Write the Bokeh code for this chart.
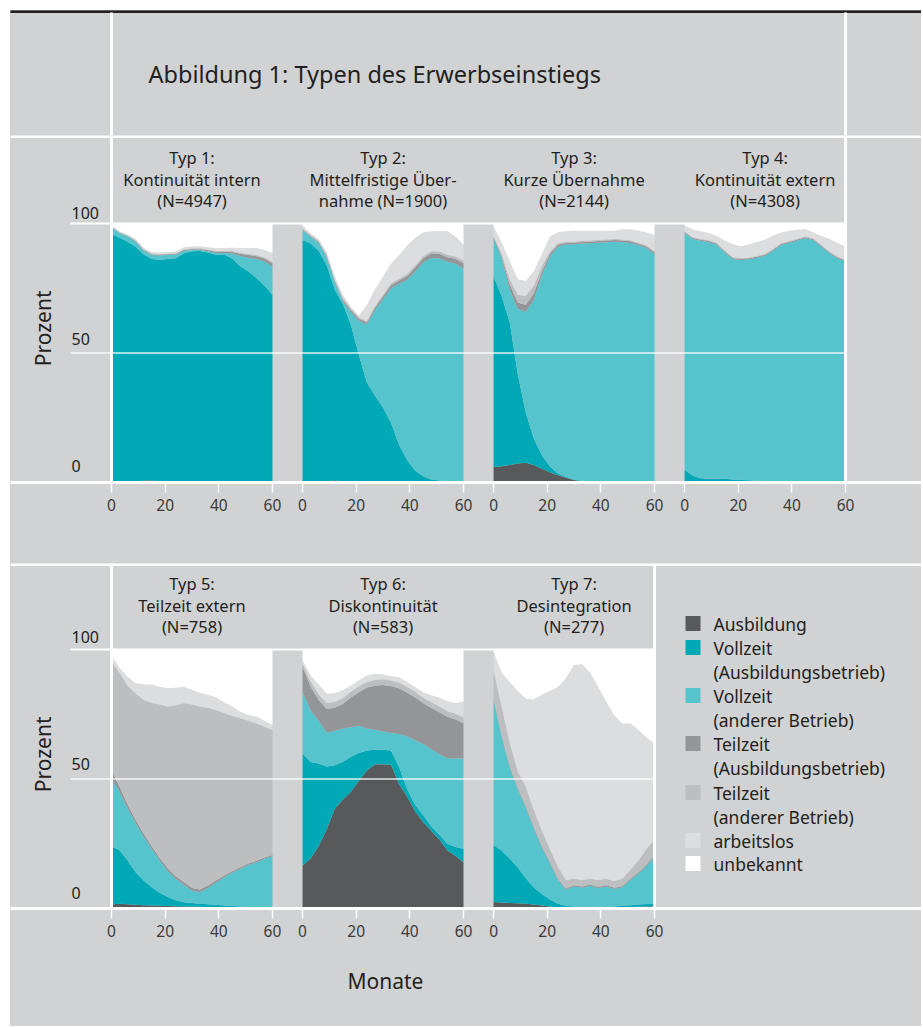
import numpy as np
from bokeh.plotting import figure
from bokeh.models import Range1d, LinearAxis, FixedTicker, Spacer
from bokeh.layouts import column, row
from bokeh.embed import file_html
from bokeh.resources import INLINE
from bokeh.core.properties import value

# ---------------- data (cumulative upper edge of each band, percent) ----------------
months = list(range(0, 61, 3))

typ1_ausb = [0.3,0.3,0.3,0.3,0.8,0.8,0.6,0.6,0.5,0.3,0.3,0.3,0.3,0.3,0.3,0.3,0.3,0.3,0.3,0.3,0.3]
typ1_vza = [96.0,94.5,93.0,91.0,88.0,86.3,86.0,86.3,86.6,88.5,89.3,89.4,88.8,87.9,88.0,86.5,83.5,81.5,79.0,76.0,72.5]
typ1_vzo = [98.5,96.2,95.0,93.0,89.5,87.8,87.6,87.8,88.0,89.5,89.8,89.8,89.3,88.6,88.6,88.4,87.5,86.8,86.3,85.3,83.4]
typ1_tza = [98.7,96.4,95.2,93.2,89.8,88.1,87.9,88.1,88.3,89.8,90.1,90.1,89.7,89.1,89.1,89.0,88.3,87.8,87.4,86.5,84.7]
typ1_tzo = [98.8,96.6,95.4,93.4,90.0,88.3,88.1,88.3,88.5,90.1,90.4,90.4,90.0,89.4,89.4,89.4,88.7,88.2,87.8,86.9,85.1]
typ1_al = [99.0,97.0,95.8,94.0,90.5,89.0,88.8,89.0,89.2,90.8,91.1,91.2,90.8,90.4,90.5,90.6,90.5,90.5,90.5,89.8,88.5]

typ2_ausb = [0.3,0.3,0.3,0.4,0.9,0.4,0.3,0.3,0.2,0.2,0.2,0.2,0.2,0.2,0.2,0.2,0.2,0.2,0.2,0.2,0.2]
typ2_vza = [93.6,92.3,89.5,84.0,74.5,69.0,61.0,49.2,38.5,33.5,29.0,23.0,14.5,8.6,4.5,2.4,1.2,0.8,0.6,0.5,0.5]
typ2_vzo = [97.5,94.9,92.5,87.0,77.5,70.0,65.8,62.4,61.0,66.5,70.8,75.0,76.7,78.3,81.5,85.0,86.7,86.5,85.2,84.5,82.6]
typ2_tza = [97.8,95.2,92.9,87.5,78.0,70.7,66.6,63.2,61.8,67.5,71.8,76.2,78.0,79.7,83.0,86.6,88.4,88.3,87.0,86.4,84.6]
typ2_tzo = [98.1,95.6,93.3,88.0,78.4,71.3,67.2,63.8,62.4,68.1,72.5,76.9,78.7,80.5,83.8,87.4,89.3,89.2,87.9,87.3,85.6]
typ2_al = [99.2,96.2,94.0,88.8,79.5,72.5,67.8,64.5,68.5,74.5,79.5,84.5,87.8,91.5,94.5,96.5,97.0,97.1,97.0,95.0,91.7]

typ3_ausb = [6.0,6.3,6.8,7.3,7.6,6.8,5.3,4.0,2.8,1.8,1.0,0.5,0.3,0.2,0.2,0.2,0.2,0.2,0.2,0.2,0.2]
typ3_vza = [79.5,72.0,62.0,42.0,27.0,17.0,10.5,6.2,3.5,2.2,1.2,0.7,0.4,0.3,0.3,0.3,0.3,0.3,0.3,0.3,0.3]
typ3_vzo = [94.3,86.4,74.5,67.0,66.0,70.5,80.0,87.2,91.0,91.9,92.0,92.3,92.4,92.6,92.8,93.0,92.8,92.5,91.6,90.5,88.1]
typ3_tza = [94.8,87.4,76.5,69.5,68.5,73.0,81.5,88.2,91.8,92.5,92.6,92.9,93.0,93.2,93.4,93.6,93.4,93.1,92.2,91.1,88.8]
typ3_tzo = [95.1,88.4,78.5,72.5,72.0,76.0,83.5,89.2,92.4,93.0,93.0,93.3,93.4,93.6,93.8,94.0,93.8,93.5,92.6,91.5,89.3]
typ3_al = [98.8,92.7,85.5,78.5,77.8,81.5,88.0,95.0,96.6,97.0,97.2,97.2,97.2,97.2,97.2,97.2,97.8,97.8,97.2,96.5,95.6]

typ4_ausb = [0.5,0.4,0.3,0.3,0.3,0.2,0.2,0.2,0.2,0.2,0.2,0.2,0.2,0.2,0.2,0.2,0.2,0.2,0.2,0.2,0.2]
typ4_vza = [4.9,2.6,1.6,1.4,1.4,1.4,1.2,1.0,0.9,0.7,0.6,0.5,0.5,0.4,0.4,0.4,0.3,0.3,0.3,0.3,0.3]
typ4_vzo = [96.2,94.0,93.3,92.8,91.8,88.8,86.3,85.9,86.2,86.8,87.5,89.5,91.7,92.5,93.4,94.3,93.5,91.0,88.5,86.5,85.3]
typ4_tza = [96.6,94.4,93.7,93.2,92.2,89.2,86.7,86.3,86.6,87.2,87.9,89.9,92.1,92.9,93.8,94.7,93.9,91.4,88.9,86.9,85.7]
typ4_tzo = [96.9,94.7,94.0,93.5,92.5,89.5,87.0,86.6,86.9,87.5,88.2,90.2,92.4,93.2,94.1,95.0,94.2,91.7,89.2,87.2,86.0]
typ4_al = [99.2,97.7,97.0,96.3,95.2,93.4,92.0,91.1,92.0,92.9,93.7,95.4,96.5,97.2,97.6,97.9,96.5,95.2,94.0,92.5,91.1]

typ5_ausb = [1.5,1.8,1.6,1.4,1.3,1.2,1.1,1.0,0.9,0.8,0.8,0.7,0.6,0.5,0.5,0.4,0.3,0.2,0.2,0.2,0.2]
typ5_vza = [24.0,22.5,18.5,14.0,10.8,8.2,6.0,4.4,3.2,2.4,2.1,1.8,1.6,1.4,1.2,1.0,0.8,0.6,0.5,0.5,0.5]
typ5_vzo = [50.0,45.0,38.7,33.0,27.8,23.0,18.5,14.4,11.4,9.2,6.9,6.3,8.0,10.0,12.0,13.8,15.3,16.8,17.9,19.2,20.2]
typ5_tza = [53.5,47.0,40.2,34.2,29.0,24.0,19.5,15.4,12.4,10.2,7.9,7.3,9.0,10.8,12.7,14.4,15.9,17.4,18.4,19.7,20.7]
typ5_tzo = [95.5,91.0,86.0,83.0,80.5,79.3,78.8,77.9,78.5,79.2,78.8,77.9,77.5,76.5,75.5,74.3,73.5,72.5,71.4,70.2,68.9]
typ5_al = [97.5,93.0,89.5,87.0,86.5,86.5,85.5,85.0,85.2,85.6,84.5,83.2,82.5,81.5,79.5,78.0,76.0,74.7,74.0,72.5,70.8]

typ6_ausb = [16.6,19.3,24.0,30.5,38.5,42.0,45.0,49.3,53.3,55.7,55.7,55.5,48.0,43.1,37.5,33.3,29.9,26.6,22.4,20.3,17.9]
typ6_vza = [59.8,56.6,56.0,54.8,55.3,56.6,58.5,60.0,61.0,61.3,61.3,61.0,54.5,46.0,40.0,36.0,31.7,28.5,25.0,23.7,23.1]
typ6_vzo = [83.7,76.5,72.5,68.0,68.5,69.5,70.0,70.6,69.5,69.0,68.3,67.8,67.4,66.5,65.0,63.5,61.5,59.6,58.0,57.9,57.9]
typ6_tza = [93.3,85.6,80.5,77.0,77.5,79.0,81.5,83.5,85.3,86.0,86.3,85.8,85.0,83.3,81.5,79.2,77.4,75.8,74.0,73.0,71.5]
typ6_tzo = [94.8,87.6,82.7,79.3,79.7,81.2,83.7,85.7,87.5,88.2,88.5,88.0,87.2,85.5,83.7,81.4,79.6,78.0,76.2,75.2,73.7]
typ6_al = [95.8,90.0,86.5,83.0,83.1,84.3,86.0,88.0,90.0,90.6,90.3,89.7,89.3,87.5,85.5,83.5,82.3,81.4,80.0,79.3,79.8]

typ7_ausb = [2.5,2.3,2.1,2.0,1.8,1.5,1.2,0.8,0.5,0.3,0.3,0.3,0.3,0.3,0.3,0.4,0.5,0.6,0.7,0.8,0.8]
typ7_vza = [24.4,22.4,19.3,15.8,11.8,8.1,5.6,3.5,1.8,1.0,0.8,0.7,0.7,0.7,0.7,0.8,1.1,1.3,1.5,1.7,1.8]
typ7_vzo = [80.5,66.3,54.5,46.0,39.0,31.0,23.5,17.5,11.0,7.2,8.5,8.0,8.8,7.8,8.5,7.5,8.2,11.0,13.4,16.5,20.0]
typ7_tza = [81.0,66.8,55.0,46.5,39.5,31.5,24.0,18.0,11.5,7.7,9.0,8.5,9.3,8.3,9.0,8.0,8.7,11.5,13.9,17.0,20.5]
typ7_tzo = [92.0,78.0,64.0,53.0,47.0,38.0,30.0,23.0,16.0,11.0,11.5,11.0,11.5,11.0,11.5,10.5,11.5,15.0,18.5,23.0,26.5]
typ7_al = [99.2,91.0,87.5,84.0,81.0,80.8,82.5,84.0,85.5,89.0,94.0,94.3,91.0,85.6,79.8,74.5,71.4,71.4,69.0,66.0,63.7]

panel_titles = [
    ["Typ 1:", "Kontinuität intern", "(N=4947)"],
    ["Typ 2:", "Mittelfristige Über-", "nahme (N=1900)"],
    ["Typ 3:", "Kurze Übernahme", "(N=2144)"],
    ["Typ 4:", "Kontinuität extern", "(N=4308)"],
    ["Typ 5:", "Teilzeit extern", "(N=758)"],
    ["Typ 6:", "Diskontinuität", "(N=583)"],
    ["Typ 7:", "Desintegration", "(N=277)"],
]
legend_labels = [
    ["Ausbildung"], ["Vollzeit", "(Ausbildungsbetrieb)"], ["Vollzeit", "(anderer Betrieb)"],
    ["Teilzeit", "(Ausbildungsbetrieb)"], ["Teilzeit", "(anderer Betrieb)"], ["arbeitslos"], ["unbekannt"],
]
x_tick_values = [0, 20, 40, 60]
y_tick_values = [0, 50, 100]

# ---------------- styling ----------------
BG = "#d1d2d4"
TXT = "#231f20"
COLORS = ["#58595b", "#00a9b5", "#56c4cd", "#939598", "#bcbec0", "#dcdddf", "#ffffff"]
FONT = "Noto Sans"

K = 2.683      # px per month
P = 2.59       # px per percent
D = 71.2       # panel offset (60 months + gap)
W = 911
LEFT = 10      # page x where the figures start


def xm(px):
    return (px - 111) / K


panels = [
    [typ1_ausb, typ1_vza, typ1_vzo, typ1_tza, typ1_tzo, typ1_al],
    [typ2_ausb, typ2_vza, typ2_vzo, typ2_tza, typ2_tzo, typ2_al],
    [typ3_ausb, typ3_vza, typ3_vzo, typ3_tza, typ3_tzo, typ3_al],
    [typ4_ausb, typ4_vza, typ4_vzo, typ4_tza, typ4_tzo, typ4_al],
    [typ5_ausb, typ5_vza, typ5_vzo, typ5_tza, typ5_tzo, typ5_al],
    [typ6_ausb, typ6_vza, typ6_vzo, typ6_tza, typ6_tzo, typ6_al],
    [typ7_ausb, typ7_vza, typ7_vzo, typ7_tza, typ7_tzo, typ7_al],
]


def base_fig(height, y_top, bottom=0):
    p = figure(width=W, height=height, x_range=Range1d(xm(LEFT), xm(LEFT + W)),
               y_range=Range1d(0, y_top), x_axis_type=None, y_axis_type=None,
               toolbar_location=None, output_backend="svg", title=None,
               min_border_left=0, min_border_right=0, min_border_top=0,
               min_border_bottom=bottom, outline_line_color=None,
               background_fill_color=BG, border_fill_color=BG)
    return p


def txt(p, x, y, t, size, align="center", baseline="middle", angle=0.0):
    p.text(x=x, y=y, text=t, text_font=value(FONT), text_font_size=size,
           text_align=align, text_baseline=baseline, text_color=TXT, angle=angle)


def add_row(p, idxs, lifts):
    n = len(idxs)
    right_edge = (n - 1) * D + 60
    top = p.y_range.end
    for j, k in enumerate(idxs):
        off = j * D
        xs = [off + m for m in months]
        layers = [np.zeros(len(months))] + [np.array(a, float) for a in panels[k]] + [np.full(len(months), 100.0)]
        stack = np.maximum.accumulate(np.vstack(layers), axis=0)
        for li in range(7):
            p.varea(x=xs, y1=stack[li], y2=stack[li + 1], fill_color=COLORS[li])
        cx = off + 30
        txt(p, [cx, cx, cx], [125.5, 116.8, 108.9], panel_titles[k], "16.5px")
    # grid lines
    p.segment(x0=[xm(70)], y0=[100], x1=[right_edge], y1=[100], line_color="white", line_width=2)
    p.segment(x0=[xm(70)], y0=[50], x1=[right_edge], y1=[50], line_color="white", line_width=1.5, line_alpha=0.85)
    # frame lines
    p.segment(x0=[0, right_edge], y0=[0, 0], x1=[0, right_edge], y1=[top, top], line_color="white", line_width=3)
    p.segment(x0=[xm(LEFT)], y0=[top - 0.35], x1=[xm(LEFT + W)], y1=[top - 0.35], line_color="white", line_width=3)
    # y tick labels (sit above their grid line)
    txt(p, [xm(71)] * 3, [v + l / P for v, l in zip(y_tick_values, lifts)],
        [str(v) for v in y_tick_values], "16px", align="left")
    txt(p, [xm(42)], [59.5], ["Prozent"], "21px", angle=np.pi / 2)
    # x axis
    ticks, over = [], {}
    for j in range(n):
        for t in x_tick_values:
            v = round(j * D + t, 3)
            ticks.append(v)
            over[v] = str(t)
    ax = LinearAxis(ticker=FixedTicker(ticks=ticks), major_label_overrides=over,
                    axis_line_color="white", axis_line_width=3,
                    major_tick_line_color="white", major_tick_line_width=1.5,
                    major_tick_out=10, major_tick_in=0, minor_tick_line_color=None,
                    major_label_standoff=6, major_label_text_font=FONT,
                    major_label_text_font_size="15.5px", major_label_text_color="#3a3a3a")
    p.add_layout(ax, "below")


# ---- title figure ----
pt = base_fig(125, 125)
pt.quad(left=[xm(LEFT)], right=[xm(LEFT + W)], bottom=[123], top=[125], color=TXT)
pt.segment(x0=[0, 3 * D + 60], y0=[0, 0], x1=[0, 3 * D + 60], y1=[123, 123], line_color="white", line_width=3)
txt(pt, [xm(148)], [62], ["Abbildung 1: Typen des Erwerbseinstiegs"], "23.5px", align="left")

# ---- row 1 ----
p1 = base_fig(428, 347 / P, bottom=81)
add_row(p1, [0, 1, 2, 3], [17, 14.5, 11])

# ---- row 2 ----
p2 = base_fig(385, 345 / P, bottom=40)
add_row(p2, [4, 5, 6], [15.5, 15, 13])
sq_y = [623, 647, 695, 743, 792, 840, 863]
p2.scatter(x=[xm(692.5)] * 7, y=[(908 - v) / P for v in sq_y], marker="square", size=15,
           fill_color=COLORS, line_color=None)
lx, ly, lt = [], [], []
for i, lab in enumerate(legend_labels):
    for r, s in enumerate(lab):
        lx.append(xm(713))
        ly.append((908 - (sq_y[i] + r * 24)) / P)
        lt.append(s)
txt(p2, lx, ly, lt, "17.5px", align="left")

# ---- bottom label ----
pm = base_fig(78, 78)
txt(pm, [xm(385)], [46], ["Monate"], "21px")

layout = row(Spacer(width=LEFT),
             column(Spacer(height=10), column(pt, p1, p2, pm, styles={"background-color": BG})))
open("out.html", "w").write(file_html(layout, INLINE))
